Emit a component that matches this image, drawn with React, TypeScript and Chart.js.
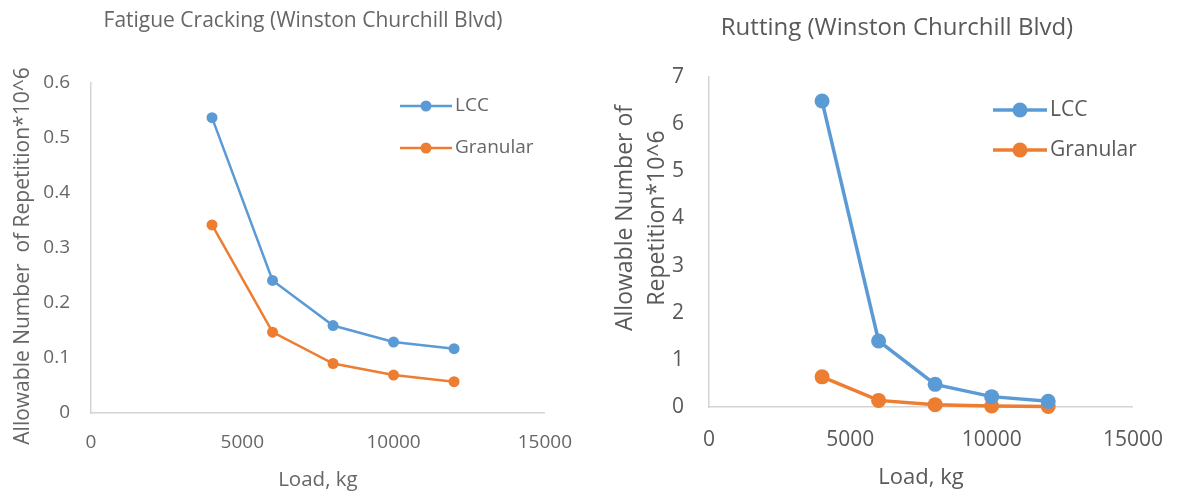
import React, { useEffect, useRef } from "react";
import { Chart, registerables } from "chart.js";

Chart.register(...registerables);

// ---- data ----
const loads = [4000, 6000, 8000, 10000, 12000];
const seriesNames = ["LCC", "Granular"];
const fatigueLCC = [0.537, 0.241, 0.159, 0.129, 0.117];
const fatigueGranular = [0.342, 0.147, 0.09, 0.069, 0.057];
const ruttingLCC = [6.49, 1.4, 0.48, 0.22, 0.12];
const ruttingGranular = [0.64, 0.14, 0.05, 0.02, 0.01];
const xTickValues = [0, 5000, 10000, 15000];
const fatigueYTicks = [0, 0.1, 0.2, 0.3, 0.4, 0.5, 0.6];
const ruttingYTicks = [0, 1, 2, 3, 4, 5, 6, 7];
const fatigueTitle = "Fatigue Cracking (Winston Churchill Blvd)";
const ruttingTitle = "Rutting (Winston Churchill Blvd)";
const fatigueYTitle = ["Allowable Number  of Repetition*10^6"];
const ruttingYTitle = ["Allowable Number of", "Repetition*10^6"];
const xTitle = "Load, kg";

const BLUE = "#5B9BD5";
const ORANGE = "#ED7D31";
const TEXT = "#595959";
const AXIS = "#D4D4D4";
const FONT = "'Open Sans'";

type Layout = {
  width: number;
  height: number;
  areaLeft: number;
  areaRight: number;
  areaTop: number;
  areaBottom: number;
  tickSize: number;
  yTickPad: number;
  xTickPad: number;
  xTitleSize: number;
  xTitlePad: number;
  titleSize: number;
  titleX: number;
  titleY: number;
  yTitleSize: number;
  yTitleX: number;
  yTitleY: number;
  yTitleGap: number;
  legendX: number;
  legendY: number;
  legendGap: number;
  legendLine: number;
  legendSize: number;
  pointRadius: number;
  lineWidth: number;
  textColor: string;
};

function overlay(title: string, yTitle: string[], L: Layout) {
  return {
    id: "overlay",
    afterDraw(chart: any) {
      const ctx = chart.ctx as CanvasRenderingContext2D;
      ctx.save();
      ctx.fillStyle = L.textColor;
      ctx.textBaseline = "middle";
      ctx.textAlign = "center";
      ctx.font = `${L.titleSize}px ${FONT}`;
      ctx.fillText(title, L.titleX, L.titleY);

      ctx.save();
      ctx.font = `${L.yTitleSize}px ${FONT}`;
      ctx.translate(L.yTitleX, L.yTitleY);
      ctx.rotate(-Math.PI / 2);
      const n = yTitle.length;
      yTitle.forEach((line, i) => {
        ctx.fillText(line, 0, (i - (n - 1) / 2) * L.yTitleGap);
      });
      ctx.restore();

      chart.data.datasets.forEach((ds: any, i: number) => {
        const y = L.legendY + i * L.legendGap;
        ctx.strokeStyle = ds.borderColor;
        ctx.lineWidth = ds.borderWidth;
        ctx.beginPath();
        ctx.moveTo(L.legendX, y);
        ctx.lineTo(L.legendX + L.legendLine, y);
        ctx.stroke();
        ctx.beginPath();
        ctx.arc(L.legendX + L.legendLine / 2, y, ds.pointRadius, 0, Math.PI * 2);
        ctx.fillStyle = ds.backgroundColor;
        ctx.fill();
        ctx.fillStyle = L.textColor;
        ctx.textAlign = "left";
        ctx.font = `${L.legendSize}px ${FONT}`;
        ctx.fillText(ds.label, L.legendX + L.legendLine + 3, y);
      });
      ctx.restore();
    },
  };
}

function makeConfig(
  series: number[][],
  yTicks: number[],
  title: string,
  yTitle: string[],
  L: Layout
): any {
  const colors = [BLUE, ORANGE];
  return {
    type: "line",
    data: {
      datasets: series.map((vals, i) => ({
        label: seriesNames[i],
        data: loads.map((x, j) => ({ x, y: vals[j] })),
        borderColor: colors[i],
        backgroundColor: colors[i],
        pointBackgroundColor: colors[i],
        pointBorderColor: colors[i],
        borderWidth: L.lineWidth,
        pointRadius: L.pointRadius,
        pointBorderWidth: 0,
        tension: 0,
        clip: false,
      })),
    },
    options: {
      responsive: false,
      animation: false,
      layout: {
        padding: {
          left: 0,
          top: L.areaTop,
          right: L.width - L.areaRight,
          bottom: 0,
        },
      },
      plugins: {
        legend: { display: false },
        title: { display: false },
        tooltip: { enabled: false },
      },
      scales: {
        x: {
          type: "linear",
          min: xTickValues[0],
          max: xTickValues[xTickValues.length - 1],
          afterBuildTicks: (s: any) => {
            s.ticks = xTickValues.map((v) => ({ value: v }));
          },
          afterFit: (s: any) => {
            s.height = L.height - L.areaBottom;
          },
          grid: { display: false, drawTicks: false },
          border: { display: true, color: AXIS, width: 1.5 },
          ticks: {
            color: L.textColor,
            font: { family: FONT, size: L.tickSize },
            padding: L.xTickPad,
            maxRotation: 0,
            callback: (v: any) => String(v),
          },
          title: {
            display: true,
            text: xTitle,
            color: L.textColor,
            font: { family: FONT, size: L.xTitleSize },
            padding: { top: 0, bottom: L.xTitlePad },
          },
        },
        y: {
          type: "linear",
          min: yTicks[0],
          max: yTicks[yTicks.length - 1],
          afterBuildTicks: (s: any) => {
            s.ticks = yTicks.map((v) => ({ value: v }));
          },
          afterFit: (s: any) => {
            s.width = L.areaLeft;
          },
          grid: { display: false, drawTicks: false },
          border: { display: true, color: AXIS, width: 1.5 },
          ticks: {
            color: L.textColor,
            font: { family: FONT, size: L.tickSize },
            padding: L.yTickPad,
            callback: (v: any) => String(Number(Number(v).toFixed(2))),
          },
        },
      },
    },
    plugins: [overlay(title, yTitle, L)],
  };
}

const leftLayout: Layout = {
  width: 590,
  height: 493,
  areaLeft: 91,
  areaRight: 558,
  areaTop: 83,
  areaBottom: 413,
  tickSize: 19,
  yTickPad: 21,
  xTickPad: 18,
  xTitleSize: 20.5,
  xTitlePad: 1,
  titleSize: 21,
  titleX: 303,
  titleY: 21,
  yTitleSize: 21,
  yTitleX: 23,
  yTitleY: 256,
  yTitleGap: 0,
  legendX: 400,
  legendY: 106,
  legendGap: 42,
  legendLine: 52,
  legendSize: 19,
  pointRadius: 5.5,
  lineWidth: 2.5,
  textColor: "#666666",
};

const rightLayout: Layout = {
  width: 590,
  height: 493,
  areaLeft: 116,
  areaRight: 552,
  areaTop: 77,
  areaBottom: 407,
  tickSize: 21,
  yTickPad: 25,
  xTickPad: 20,
  xTitleSize: 22,
  xTitlePad: 2,
  titleSize: 24,
  titleX: 304,
  titleY: 28,
  yTitleSize: 23,
  yTitleX: 48,
  yTitleY: 218,
  yTitleGap: 32,
  legendX: 400,
  legendY: 110,
  legendGap: 40,
  legendLine: 54,
  legendSize: 21,
  pointRadius: 7.5,
  lineWidth: 3.5,
  textColor: TEXT,
};

function ChartCanvas({ config, left, L }: { config: any; left: number; L: Layout }) {
  const ref = useRef<HTMLCanvasElement | null>(null);
  useEffect(() => {
    if (!ref.current) return;
    const chart = new Chart(ref.current, config);
    return () => chart.destroy();
  }, [config]);
  return (
    <canvas
      ref={ref}
      width={L.width}
      height={L.height}
      style={{ position: "absolute", left, top: 0, width: L.width, height: L.height, display: "block" }}
    />
  );
}

const leftConfig = makeConfig([fatigueLCC, fatigueGranular], fatigueYTicks, fatigueTitle, fatigueYTitle, leftLayout);
const rightConfig = makeConfig([ruttingLCC, ruttingGranular], ruttingYTicks, ruttingTitle, ruttingYTitle, rightLayout);

export default function App() {
  return (
    <div style={{ position: "absolute", left: 0, top: 0, width: 1183, height: 493, background: "#fff" }}>
      <ChartCanvas config={leftConfig} left={0} L={leftLayout} />
      <ChartCanvas config={rightConfig} left={593} L={rightLayout} />
    </div>
  );
}
